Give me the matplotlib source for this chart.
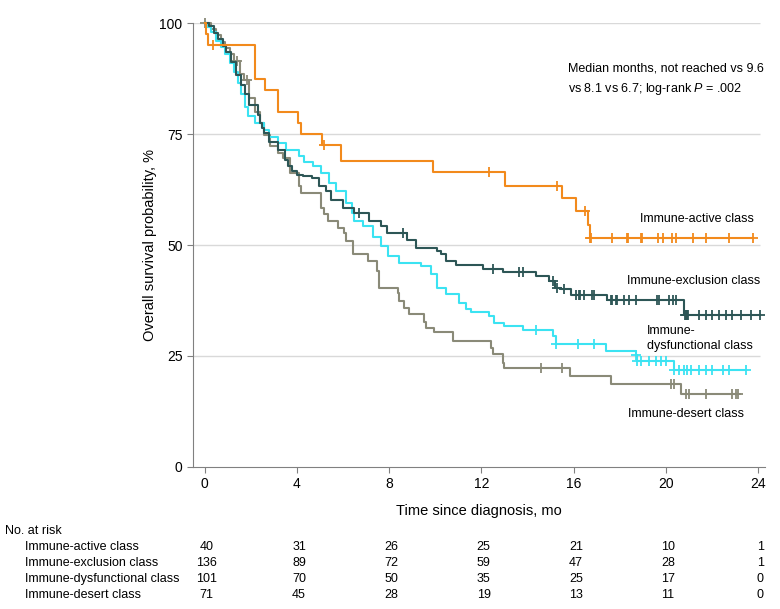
import numpy as np
import matplotlib
matplotlib.use("Agg")
import matplotlib.pyplot as plt

# ------------- DATA ------------- #

groups = ['Immune-active class', 'Immune-exclusion class',
          'Immune-dysfunctional class', 'Immune-desert class']

t_active = [0, 0.05, 0.13, 2.2, 2.64, 3.18, 4.04, 4.19, 5.1, 5.92, 9.9, 13.04, 15.48, 16.1, 16.64, 16.71]
s_active = [100, 97.5, 95, 87.5, 85, 80, 77.5, 75, 72.5, 69.0, 66.4, 63.4, 60.6, 57.6, 54.6, 51.6]
c_active = [0.35, 5.2, 12.35, 15.3, 16.5, 16.72, 16.75, 17.69, 18.31, 18.35, 18.92, 18.96,
            19.67, 19.86, 20.25, 20.44, 21.2, 21.74, 22.75, 23.8]

t_excl = [0, 0.2, 0.4, 0.6, 0.8, 0.95, 1.15, 1.37, 1.6, 1.75, 1.95, 2.3, 2.4, 2.5, 2.6, 2.8,
          3.2, 3.47, 3.6, 3.8, 4.0, 4.26, 4.68, 4.98, 5.27, 5.5, 6.0, 6.5, 7.15, 7.65, 7.93,
          8.8, 9.17, 10.1, 10.25, 10.47, 10.9, 12.06, 12.93, 14.37, 14.95, 15.2, 15.45, 15.9,
          17.47, 20.8]
s_excl = [100, 99.3, 97.8, 96.3, 94.9, 93.4, 91.2, 88.4, 86.0, 84.0, 81.6, 79.3, 77.5, 76.4,
          75.3, 73.3, 71.5, 69.2, 67.7, 66.6, 65.8, 65.5, 65.1, 63.2, 62.1, 60.2, 58.4, 57.3,
          55.3, 54.2, 52.8, 51.2, 49.4, 48.6, 47.9, 46.4, 45.5, 44.6, 43.9, 43.0, 41.9, 40.4,
          40.0, 38.7, 37.7, 34.2]
c_excl = [6.7, 8.6, 12.5, 13.65, 13.8, 15.1, 15.3, 15.6, 16.1, 16.25, 16.3, 16.45, 16.8, 16.9,
          17.62, 17.67, 17.84, 17.9, 18.2, 18.4, 18.7, 19.64, 19.7, 20.15, 20.3, 20.43, 20.85,
          20.88, 20.9, 20.93, 20.96, 21.45, 21.74, 22.02, 22.31, 22.6, 22.89, 23.25, 23.69, 24.1]

t_dys = [0, 0.1, 0.3, 0.5, 0.7, 0.9, 1.1, 1.3, 1.45, 1.6, 1.75, 1.9, 2.2, 2.6, 2.8, 3.2, 3.54,
         4.1, 4.33, 4.7, 5.05, 5.4, 5.7, 6.14, 6.4, 6.5, 6.86, 7.3, 7.65, 7.94, 8.45, 9.39,
         9.82, 10.1, 10.47, 11.05, 11.34, 11.55, 12.35, 12.56, 13.0, 13.8, 15.1, 15.24, 17.4,
         18.7, 18.75, 20.36]
s_dys = [100, 99, 98, 96, 94.5, 93, 91, 89, 86.5, 84, 81, 79, 77.5, 76, 74.4, 73, 71.5, 70,
         68.8, 67.7, 66.2, 64, 62.1, 59.5, 57.3, 55.3, 54.2, 51.7, 49.7, 47.5, 46.0, 45.2,
         43.4, 40.4, 38.9, 37.0, 35.5, 34.8, 34.0, 32.5, 31.8, 30.8, 29.5, 27.6, 26.2, 25.2,
         23.9, 21.8]
c_dys = [14.37, 15.24, 16.2, 16.9, 18.72, 18.77, 18.92, 19.28, 19.57, 19.79, 20.0, 20.36,
         20.58, 20.8, 20.94, 21.09, 21.45, 21.74, 22.02, 22.46, 22.75, 23.47]

t_des = [0, 0.3, 0.5, 0.7, 0.9, 1.1, 1.3, 1.55, 1.7, 1.95, 2.2, 2.4, 2.6, 2.82, 3.18, 3.4,
         3.7, 4.1, 4.2, 5.05, 5.2, 5.34, 5.78, 6.07, 6.15, 6.43, 7.08, 7.5, 7.55, 8.38, 8.45,
         8.67, 8.88, 9.53, 9.6, 9.97, 10.76, 12.42, 12.5, 12.93, 13.0, 15.84, 17.62, 20.65]
s_des = [100, 98.6, 97.2, 95.8, 94.4, 93, 91.5, 88.6, 87.2, 83, 80, 77.5, 74.8, 72.2, 70.7,
         69.6, 66.2, 63.2, 61.7, 58.4, 56.9, 55.4, 53.9, 52.8, 50.9, 47.9, 46.4, 44.1, 40.4,
         39.3, 37.4, 35.9, 34.4, 32.6, 31.4, 30.3, 28.4, 26.9, 25.4, 23.5, 22.2, 20.5, 18.65,
         16.5]
c_des = [0.0, 1.43, 1.86, 14.6, 15.48, 20.22, 20.36, 20.87, 21.0, 21.74, 22.89, 23.04, 23.15]

risk_times = [0, 4, 8, 12, 16, 20, 24]
risk_active = [40, 31, 26, 25, 21, 10, 1]
risk_excl = [136, 89, 72, 59, 47, 28, 1]
risk_dys = [101, 70, 50, 35, 25, 17, 0]
risk_des = [71, 45, 28, 19, 13, 11, 0]

# ------------- STYLE ------------- #

colors = ['#F28A1C', '#2D5656', '#3BE3F2', '#8A8A78']
plt.rcParams['font.family'] = ['Liberation Sans', 'DejaVu Sans']
plt.rcParams['mathtext.fontset'] = 'custom'
plt.rcParams['mathtext.rm'] = 'Liberation Sans'
plt.rcParams['mathtext.it'] = 'Liberation Sans:italic'
fs = 9

fig = plt.figure(figsize=(7.8, 6.09), dpi=100)
ax = fig.add_axes([0.2474, 0.2332, 0.7333, 0.729])

curves = [(t_active, s_active, c_active), (t_excl, s_excl, c_excl),
          (t_dys, s_dys, c_dys), (t_des, s_des, c_des)]

ax.hlines([25, 50, 75, 100], -0.5, 24.1, color='#d9d9d9', lw=1, zorder=0)

for (t, s, c), col in zip(curves[::-1], colors[::-1]):
    t = np.array(t + [max(c)])
    s = np.array(s + [s[-1]])
    ax.step(t, s, where='post', color=col, lw=1.5, clip_on=False)
    c = np.array(c)
    cy = s[np.searchsorted(t, c, side='right') - 1]
    ax.plot(c, cy, ls='none', marker='+', ms=7, mew=1.3, color=col, clip_on=False)

ax.set_xlim(-0.5, 24.3)
ax.set_ylim(0, 100)
ax.set_xticks(risk_times)
ax.set_yticks([0, 25, 50, 75, 100])
for sp in ['top', 'right']:
    ax.spines[sp].set_visible(False)
for sp in ['left', 'bottom']:
    ax.spines[sp].set_color('#808080')
ax.tick_params(colors='#808080', labelcolor='black', labelsize=fs + 1, length=4)
ax.set_ylabel('Overall survival probability, %', fontsize=fs + 1.5, labelpad=2)
ax.set_xlabel('Time since diagnosis, mo', fontsize=fs + 1.5, labelpad=9)

# annotation
ax.text(15.75, 91.2, 'Median months, not reached vs 9.6\nvs 8.1 vs 6.7; log-rank $P$ = .002',
        fontsize=fs, va='top', ha='left', linespacing=1.6)

# curve labels
ax.text(23.8, 55.8, 'Immune-active class', fontsize=fs, ha='right', va='center')
ax.text(24.1, 41.8, 'Immune-exclusion class', fontsize=fs, ha='right', va='center')
ax.text(19.2, 29.0, 'Immune-\ndysfunctional class', fontsize=fs, ha='left', va='center',
        linespacing=1.35)
ax.text(18.35, 12.0, 'Immune-desert class', fontsize=fs, ha='left', va='center')

# number at risk table
fig.text(5 / 780, 1 - 531 / 609, 'No. at risk', fontsize=fs, va='center', ha='left')
rows = [risk_active, risk_excl, risk_dys, risk_des]
trans = matplotlib.transforms.blended_transform_factory(ax.transData, fig.transFigure)
for i, (name, vals) in enumerate(zip(groups, rows)):
    yf = 1 - (547 + 16 * i) / 609
    fig.text(25 / 780, yf, name, fontsize=fs, va='center', ha='left')
    for tt, v in zip(risk_times, vals):
        ax.text(tt + 0.1, yf, str(v), transform=trans, fontsize=fs, va='center', ha='center',
                clip_on=False)

fig.savefig('out.png', dpi=100)
